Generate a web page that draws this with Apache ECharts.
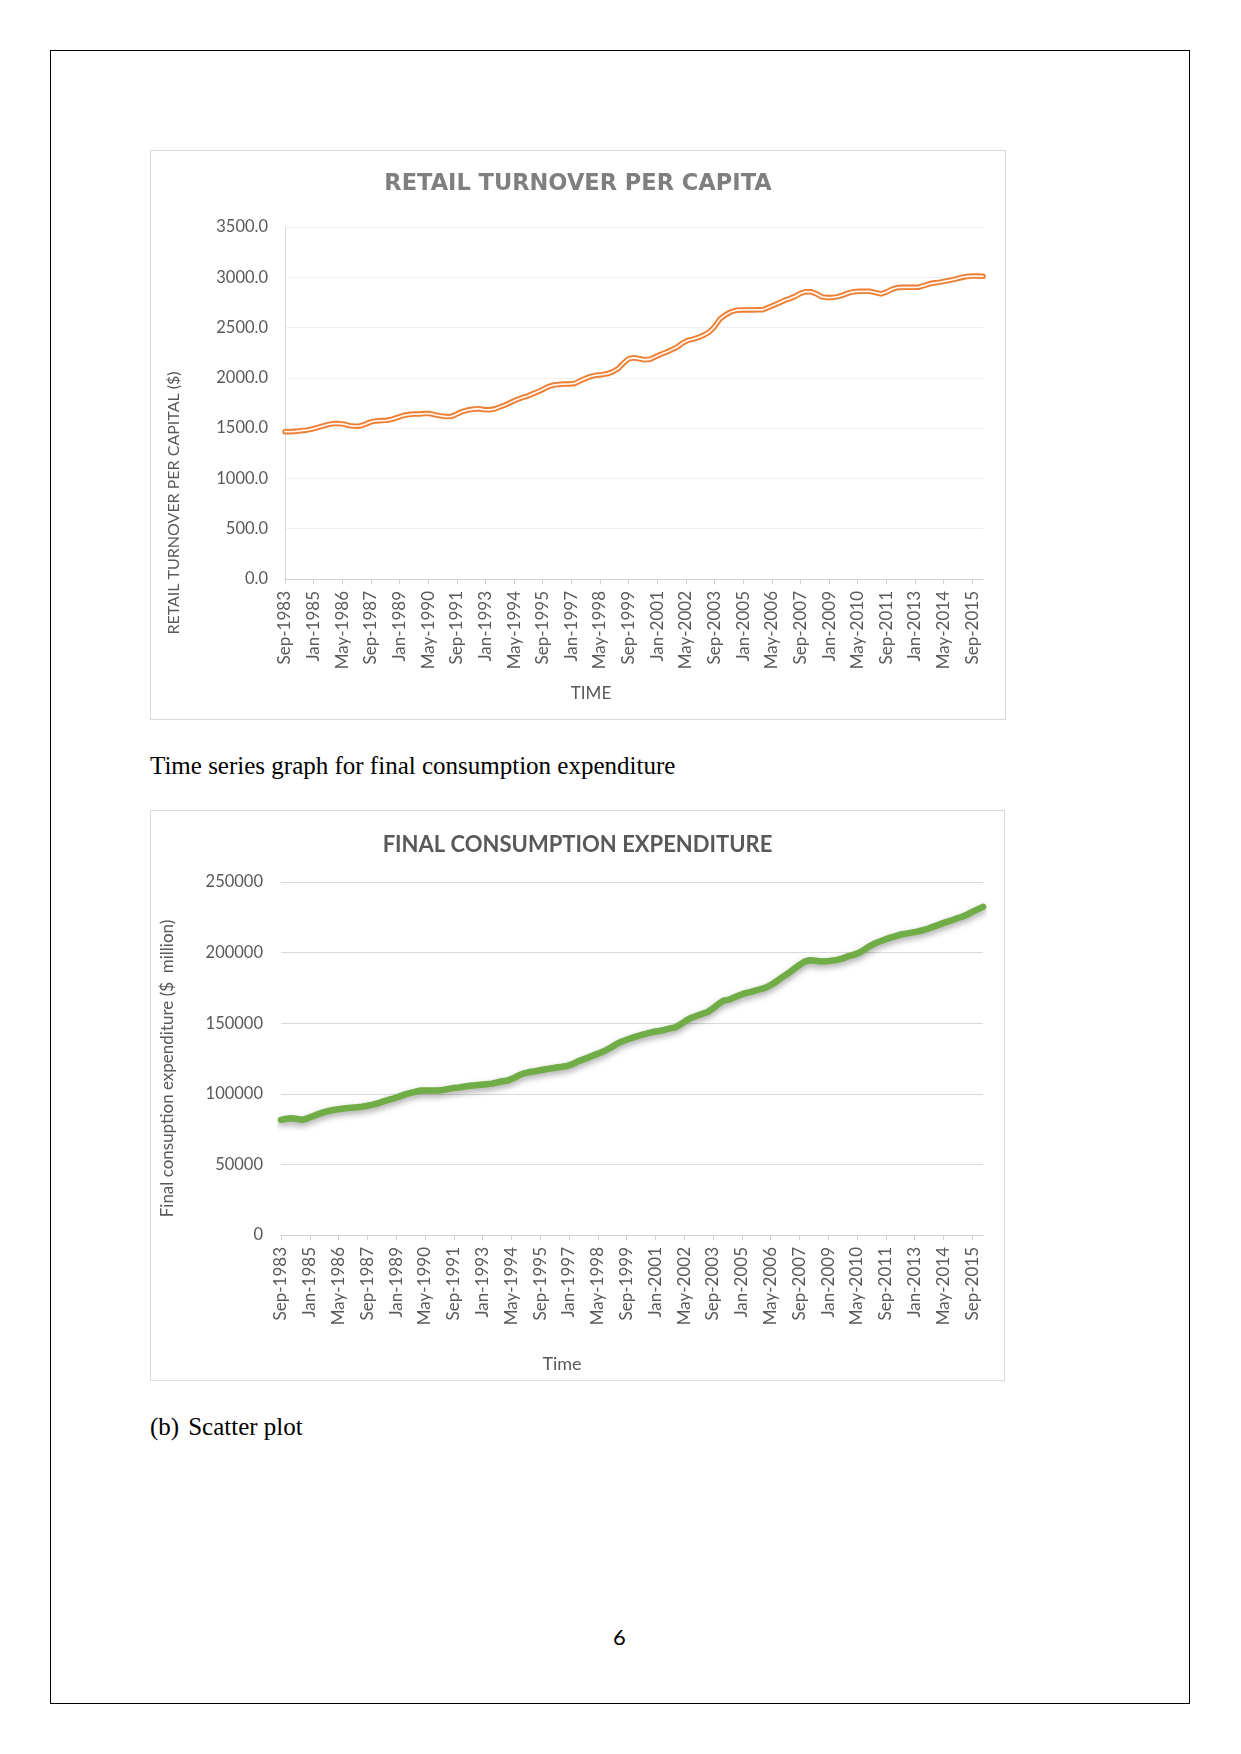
<!DOCTYPE html>
<html><head><meta charset="utf-8">
<script src="https://cdn.jsdelivr.net/npm/echarts@6/dist/echarts.min.js"></script>
<style>
html,body{margin:0;padding:0;background:#fff;}
#page{position:relative;width:1241px;height:1754px;overflow:hidden;}
#border{position:absolute;left:50px;top:50px;width:1140px;height:1654px;border:1.5px solid #000;box-sizing:border-box;}
.chart{position:absolute;border:1px solid #d9d9d9;box-sizing:border-box;}
#c1{left:150px;top:150px;width:856px;height:570px;}
#c2{left:150px;top:810px;width:855px;height:571px;}
.cap{position:absolute;font-family:"Liberation Serif","Times New Roman",serif;font-size:25px;line-height:30px;color:#000;white-space:nowrap;}
#pnum{position:absolute;left:613px;top:1622px;font-family:Lato,"Open Sans",sans-serif;font-size:22px;line-height:30px;color:#000;}
</style></head><body>
<div id="page">
  <div id="border"></div>
  <div id="c1" class="chart"></div>
  <div class="cap" style="left:150px;top:751px;">Time series graph for final consumption expenditure</div>
  <div id="c2" class="chart"></div>
  <div class="cap" style="left:150px;top:1412px;">(b)<span style="display:inline-block;width:9px"></span>Scatter plot</div>
  <div id="pnum">6</div>
</div>
<script>
// ---- data ----
const monthNames = ['Jan','Feb','Mar','Apr','May','Jun','Jul','Aug','Sep','Oct','Nov','Dec'];
const startYear = 1983, startMonthIdx = 8, monthCount = 391; // Sep-1983 .. Mar-2016
const months = [];
for (let i = 0; i < monthCount; i++) {
  const mi = startMonthIdx + i;
  months.push(monthNames[mi % 12] + '-' + (startYear + Math.floor(mi / 12)));
}
// quarterly observations (every 3rd month from Sep-1983)
const retailTurnover = [
  1465,1465,1468,1475,1480,1490,1505,1520,1535,1545,
  1545,1540,1525,1520,1522,1540,1562,1572,1575,1578,
  1590,1608,1625,1635,1640,1640,1645,1645,1632,1622,
  1615,1617,1640,1665,1680,1688,1693,1685,1682,1690,
  1710,1730,1755,1780,1800,1815,1838,1860,1885,1912,
  1928,1935,1938,1940,1945,1972,1995,2015,2027,2032,
  2040,2060,2090,2145,2190,2200,2190,2180,2185,2210,
  2235,2255,2280,2305,2345,2372,2385,2402,2425,2455,
  2510,2585,2625,2655,2672,2675,2675,2675,2676,2677,
  2700,2722,2745,2770,2788,2810,2840,2857,2855,2835,
  2805,2798,2800,2808,2825,2845,2857,2860,2860,2860,
  2848,2835,2852,2880,2897,2900,2900,2900,2902,2918,
  2935,2945,2952,2962,2972,2984,2998,3008,3012,3012,
  3010
];
const finalConsumption = [
  81500,82300,82700,82200,81500,82800,84300,85800,87000,88000,
  88700,89300,89800,90100,90400,90800,91500,92300,93300,94600,
  95800,96800,98200,99600,100600,101600,102300,102400,102400,102400,
  102700,103500,104100,104500,105200,105700,106000,106400,106800,107200,
  108000,108900,109400,111000,113000,114500,115400,116000,116700,117400,
  118000,118600,119100,119700,121000,123000,124400,125800,127400,128900,
  130500,132600,135000,136900,138300,139600,140800,141900,142900,143900,
  144500,145300,146300,147000,149200,151800,153900,155300,156600,157900,
  160500,163600,166000,166700,168400,170000,171300,172200,173300,174300,
  175600,177800,180300,183000,185500,188500,191200,193700,194600,194200,
  193700,193800,194300,194800,195900,197300,198400,199800,202000,204600,
  206600,208000,209500,210800,211900,213000,213600,214300,215000,216000,
  217200,218600,220000,221400,222600,224000,225200,226800,228800,230600,
  232400
];
const retailTicks = [0, 3500, 500];
const fceTicks = [0, 250000, 50000];

const toPairs = arr => arr.map((v, i) => [months[i * 3], v]);
const labelFont = 'Lato, "Open Sans", sans-serif';

function xAxisCfg(name, gap, shift, nameSize) {
  return {
    type: 'category', data: months, boundaryGap: false,
    name: name, nameLocation: 'middle', nameGap: gap,
    nameTextStyle: { color: '#595959', fontFamily: labelFont, fontSize: nameSize, padding: [0, shift, 0, 0] },
    axisLine: { lineStyle: { color: '#d0d0d0', width: 1 } },
    axisTick: { show: true, interval: 15, length: 5, lineStyle: { color: '#d0d0d0' } },
    axisLabel: { interval: 15, rotate: 90, margin: 12, color: '#595959', fontFamily: labelFont, fontSize: 17 },
    splitLine: { show: false }
  };
}

// ---- chart 1 ----
const ch1 = echarts.init(document.getElementById('c1'), null, { renderer: 'canvas' });
ch1.setOption({
  animation: false,
  title: {
    text: 'RETAIL TURNOVER PER CAPITA', left: 'center', top: 17,
    textStyle: { color: '#7f7f7f', fontFamily: '"DejaVu Sans", sans-serif', fontWeight: 'bold', fontSize: 22.5 }
  },
  grid: { left: 134, right: 22, top: 76, bottom: 140 },
  xAxis: xAxisCfg('TIME', 106, 86, 17),
  yAxis: {
    type: 'value', min: retailTicks[0], max: retailTicks[1], interval: retailTicks[2],
    name: 'RETAIL TURNOVER PER CAPITAL ($)', nameLocation: 'middle', nameGap: 103,
    nameTextStyle: { color: '#595959', fontFamily: labelFont, fontSize: 16, padding: [0, 200, 0, 0] },
    axisLine: { show: true, lineStyle: { color: '#d9d9d9' } },
    axisTick: { show: false },
    axisLabel: { margin: 17, color: '#595959', fontFamily: labelFont, fontSize: 16.5, formatter: v => v.toFixed(1) },
    splitLine: { lineStyle: { color: '#efefef', width: 1 } }
  },
  series: [
    { type: 'line', data: toPairs(retailTurnover), showSymbol: false, z: 2,
      lineStyle: { color: '#ed7d31', width: 5.5, join: 'round', cap: 'round' } },
    { type: 'line', data: toPairs(retailTurnover), showSymbol: false, z: 3,
      lineStyle: { color: '#fff3ea', width: 1.8, join: 'round', cap: 'round' } }
  ]
});

// ---- chart 2 ----
const ch2 = echarts.init(document.getElementById('c2'), null, { renderer: 'canvas' });
ch2.setOption({
  animation: false,
  title: {
    text: 'FINAL CONSUMPTION EXPENDITURE', left: 'center', top: 18,
    textStyle: { color: '#595959', fontFamily: labelFont, fontWeight: 'bold', fontSize: 22 }
  },
  grid: { left: 130, right: 21, top: 71, bottom: 145 },
  xAxis: xAxisCfg('Time', 120, 140, 18),
  yAxis: {
    type: 'value', min: fceTicks[0], max: fceTicks[1], interval: fceTicks[2],
    name: 'Final consuption expenditure ($  million)', nameLocation: 'middle', nameGap: 105,
    nameTextStyle: { color: '#595959', fontFamily: labelFont, fontSize: 17, padding: [0, 20, 0, 0] },
    axisLine: { show: false },
    axisTick: { show: false },
    axisLabel: { margin: 18, color: '#595959', fontFamily: labelFont, fontSize: 16.5, formatter: v => String(v) },
    splitLine: { lineStyle: { color: '#d9d9d9', width: 1 } }
  },
  series: [
    { type: 'line', data: toPairs(finalConsumption), showSymbol: false,
      lineStyle: { color: '#70ad47', width: 6.5, join: 'round', cap: 'round',
        shadowColor: 'rgba(0,0,0,0.35)', shadowBlur: 6, shadowOffsetY: 3 } }
  ]
});
</script>
</body></html>
